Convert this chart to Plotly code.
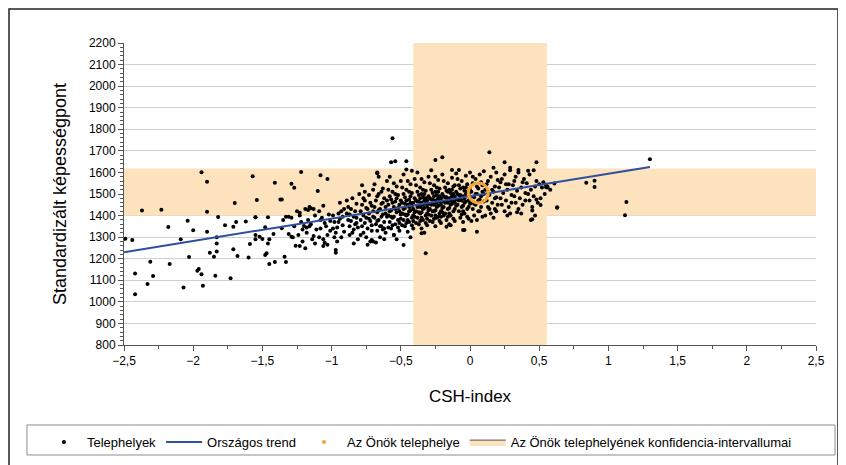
import plotly.graph_objects as go

# --- data ---

# sparse sites on the left (CSH-index, standardised score)
left_x = [-2.49, -2.44, -2.37, -2.23, -2.18, -2.42, -2.31, -2.29, -2.33, -2.42, -2.17, -2.09,
          -2.04, -2.00, -2.03, -2.07, -1.94, -1.90, -1.90, -1.90, -1.96, -1.97, -1.94, -1.93,
          -1.88, -1.85, -1.83, -1.83, -1.83, -1.82, -1.84, -1.73, -1.70, -1.71, -1.68, -1.69,
          -1.77, -1.71, -1.62, -1.60, -1.57, -1.54, -1.55, -1.59, -1.55, -1.41, -1.29, -1.27,
          -1.22, -1.08, -1.03, -1.10, -1.37, -1.36, -1.55, -1.46, -1.48, -1.55, -1.52, -1.50,
          -1.45, -1.46, -1.42, -1.48, -1.47, -1.45, -1.41, -1.34, -1.33, -1.35, -1.33, -1.31,
          -1.36, -1.31, -1.29, -1.23, -1.19, -1.23, -1.20, -1.17, -1.15, -1.13, -1.06, -1.05,
          -0.97]
left_y = [1292, 1287, 1424, 1427, 1347, 1132, 1186, 1120, 1083, 1035, 1175, 1290,
          1376, 1332, 1208, 1066, 1601, 1557, 1418, 1325, 1152, 1144, 1128, 1075,
          1228, 1209, 1234, 1271, 1299, 1393, 1121, 1110, 1458, 1244, 1213, 1370,
          1355, 1348, 1373, 1206, 1582, 1472, 1392, 1268, 1310, 1552, 1548, 1529,
          1602, 1587, 1570, 1514, 1475, 1475, 1392, 1392, 1346, 1290, 1302, 1291,
          1290, 1271, 1314, 1217, 1225, 1175, 1185, 1209, 1185, 1380, 1395, 1395,
          1341, 1314, 1302, 1259, 1248, 1413, 1352, 1426, 1434, 1431, 1259, 1274,
          1228]

# main cloud, left part (-1.3 .. -0.7)
cloud_a_x = [-1.29, -1.27, -1.25, -1.24, -1.22, -1.21, -1.28, -1.23, -1.26, -1.21,
             -1.19, -1.17, -1.16, -1.18, -1.14, -1.12, -1.15, -1.11, -1.13, -1.16, -1.12, -1.18,
             -1.09, -1.07, -1.05, -1.08, -1.03, -1.06, -1.02, -1.04, -1.01, -1.09, -1.06, -1.03, -1.08, -1.01,
             -0.99, -0.98, -0.96, -0.97, -0.95, -0.94, -0.93, -0.92, -0.91, -0.96, -0.99, -0.92, -0.94, -0.97,
             -0.91, -0.95, -0.93, -0.98,
             -0.89, -0.88, -0.87, -0.86, -0.85, -0.84, -0.83, -0.82, -0.81, -0.89, -0.87, -0.86, -0.84, -0.83,
             -0.82, -0.81, -0.88, -0.85, -0.84, -0.82, -0.80, -0.87,
             -0.79, -0.79, -0.78, -0.78, -0.77, -0.77, -0.76, -0.76, -0.75, -0.75, -0.74, -0.74, -0.73, -0.73,
             -0.72, -0.72, -0.71, -0.71, -0.70, -0.70, -0.78, -0.76, -0.74, -0.73, -0.72, -0.79, -0.75, -0.71,
             -0.77, -0.70]
cloud_a_y = [1390, 1350, 1420, 1310, 1370, 1335, 1300, 1400, 1260, 1280,
             1430, 1380, 1350, 1320, 1290, 1400, 1360, 1335, 1305, 1440, 1270, 1345,
             1420, 1390, 1365, 1340, 1310, 1290, 1405, 1350, 1375, 1300, 1445, 1265, 1380, 1330,
             1400, 1370, 1345, 1320, 1410, 1385, 1300, 1355, 1430, 1280, 1340, 1395, 1460, 1240,
             1325, 1370, 1420, 1300,
             1410, 1380, 1350, 1430, 1320, 1395, 1360, 1455, 1290, 1470, 1310, 1375, 1335, 1420,
             1390, 1345, 1440, 1480, 1270, 1365, 1500, 1405,
             1420, 1380, 1350, 1450, 1400, 1320, 1470, 1365, 1390, 1300, 1430, 1340, 1495, 1410,
             1375, 1280, 1445, 1355, 1420, 1520, 1540, 1510, 1265, 1385, 1460, 1310, 1435, 1330,
             1480, 1395]

# main cloud, middle part (-0.7 .. -0.3)
cloud_b_x = [-0.69, -0.69, -0.68, -0.68, -0.67, -0.67, -0.66, -0.66, -0.65, -0.65, -0.64, -0.64,
             -0.63, -0.63, -0.62, -0.62, -0.61, -0.61, -0.60, -0.60, -0.69, -0.68, -0.67, -0.66,
             -0.65, -0.64, -0.63, -0.62, -0.61, -0.60, -0.66, -0.64, -0.62, -0.67, -0.63,
             -0.59, -0.59, -0.58, -0.58, -0.57, -0.57, -0.56, -0.56, -0.55, -0.55, -0.54, -0.54,
             -0.53, -0.53, -0.52, -0.52, -0.51, -0.51, -0.50, -0.50, -0.59, -0.58, -0.57, -0.56,
             -0.55, -0.54, -0.53, -0.52, -0.51, -0.50, -0.58, -0.55, -0.53, -0.57, -0.54, -0.52,
             -0.51, -0.56, -0.59, -0.50,
             -0.49, -0.49, -0.48, -0.48, -0.47, -0.47, -0.46, -0.46, -0.45, -0.45, -0.44, -0.44,
             -0.43, -0.43, -0.42, -0.42, -0.41, -0.41, -0.40, -0.40, -0.49, -0.48, -0.47, -0.46,
             -0.45, -0.44, -0.43, -0.42, -0.41, -0.40, -0.48, -0.45, -0.43, -0.47, -0.44, -0.42,
             -0.41, -0.46, -0.49, -0.40, -0.47, -0.45, -0.43, -0.41, -0.44,
             -0.39, -0.39, -0.38, -0.38, -0.37, -0.37, -0.36, -0.36, -0.35, -0.35, -0.34, -0.34,
             -0.33, -0.33, -0.32, -0.32, -0.31, -0.31, -0.30, -0.30, -0.39, -0.38, -0.37, -0.36,
             -0.35, -0.34, -0.33, -0.32, -0.31, -0.30, -0.38, -0.35, -0.33, -0.37, -0.34, -0.32,
             -0.31, -0.36, -0.39, -0.30, -0.37, -0.35, -0.33, -0.31, -0.34, -0.36, -0.38, -0.32,
             -0.30, -0.35]
cloud_b_y = [1440, 1390, 1360, 1470, 1415, 1330, 1500, 1380, 1430, 1300, 1455, 1350,
             1525, 1405, 1370, 1480, 1440, 1320, 1395, 1560, 1545, 1275, 1490, 1425,
             1350, 1395, 1460, 1340, 1410, 1470, 1580, 1510, 1290, 1375, 1335,
             1450, 1400, 1370, 1490, 1425, 1340, 1510, 1390, 1440, 1310, 1465, 1360,
             1535, 1415, 1380, 1495, 1450, 1330, 1405, 1560, 1520, 1420, 1475, 1355,
             1395, 1430, 1480, 1345, 1420, 1470, 1580, 1550, 1290, 1395, 1500, 1435,
             1365, 1460, 1345, 1385,
             1460, 1410, 1380, 1500, 1435, 1350, 1520, 1400, 1450, 1325, 1475, 1370,
             1545, 1425, 1390, 1505, 1460, 1340, 1415, 1570, 1530, 1430, 1485, 1365,
             1405, 1440, 1490, 1355, 1430, 1480, 1590, 1560, 1300, 1405, 1510, 1445,
             1375, 1470, 1355, 1395, 1455, 1380, 1460, 1400, 1420,
             1470, 1420, 1390, 1510, 1445, 1360, 1530, 1410, 1460, 1340, 1485, 1380,
             1555, 1435, 1400, 1515, 1470, 1355, 1425, 1580, 1540, 1440, 1495, 1375,
             1415, 1450, 1500, 1365, 1440, 1490, 1600, 1570, 1320, 1415, 1520, 1455,
             1385, 1480, 1365, 1405, 1465, 1390, 1470, 1410, 1430, 1440, 1465, 1480,
             1455, 1500]

# main cloud, right part (-0.3 .. 0.6)
cloud_c_x = [-0.29, -0.29, -0.28, -0.28, -0.27, -0.27, -0.26, -0.26, -0.25, -0.25, -0.24, -0.24,
             -0.23, -0.23, -0.22, -0.22, -0.21, -0.21, -0.20, -0.20, -0.29, -0.28, -0.27, -0.26,
             -0.25, -0.24, -0.23, -0.22, -0.21, -0.20, -0.28, -0.25, -0.27, -0.24, -0.22, -0.21,
             -0.26, -0.29, -0.20, -0.27, -0.25, -0.23, -0.21, -0.24, -0.26, -0.28, -0.22, -0.20,
             -0.25, -0.23,
             -0.19, -0.19, -0.18, -0.18, -0.17, -0.17, -0.16, -0.16, -0.15, -0.15, -0.14, -0.14,
             -0.13, -0.13, -0.12, -0.12, -0.11, -0.11, -0.10, -0.10, -0.19, -0.18, -0.17, -0.16,
             -0.15, -0.14, -0.13, -0.12, -0.11, -0.10, -0.17, -0.15, -0.13, -0.11, -0.14, -0.16,
             -0.18, -0.12, -0.10, -0.15, -0.19, -0.14, -0.12, -0.16, -0.11,
             -0.09, -0.09, -0.08, -0.08, -0.07, -0.07, -0.06, -0.06, -0.05, -0.05, -0.04, -0.04,
             -0.03, -0.03, -0.02, -0.02, -0.01, -0.01, 0.00, 0.00, -0.09, -0.08, -0.07, -0.06,
             -0.05, -0.04, -0.03, -0.02, -0.01, 0.00, -0.07, -0.05, -0.03, -0.01, -0.04, -0.06,
             -0.08, -0.02, 0.00, -0.05,
             0.01, 0.01, 0.02, 0.02, 0.03, 0.03, 0.04, 0.04, 0.05, 0.05, 0.06, 0.06,
             0.07, 0.07, 0.08, 0.08, 0.09, 0.09, 0.10, 0.10, 0.02, 0.03, 0.05, 0.06,
             0.08, 0.09, 0.04, 0.07, 0.01, 0.10,
             0.11, 0.12, 0.13, 0.13, 0.14, 0.15, 0.15, 0.16, 0.17, 0.17, 0.18, 0.18,
             0.19, 0.19, 0.20, 0.20, 0.12, 0.14, 0.16, 0.18, 0.11, 0.19,
             0.21, 0.22, 0.23, 0.23, 0.24, 0.25, 0.25, 0.26, 0.27, 0.27, 0.28, 0.28,
             0.29, 0.30, 0.30, 0.22, 0.26, 0.29,
             0.31, 0.32, 0.33, 0.33, 0.34, 0.35, 0.35, 0.36, 0.37, 0.37, 0.38, 0.38,
             0.39, 0.40, 0.40, 0.32,
             0.41, 0.42, 0.43, 0.43, 0.44, 0.45, 0.46, 0.46, 0.47, 0.47, 0.48, 0.49,
             0.50, 0.44,
             0.52, 0.53, 0.55, 0.56, 0.58, 0.51, 0.54]
cloud_c_y = [1480, 1430, 1400, 1520, 1455, 1370, 1540, 1420, 1470, 1350, 1495, 1390,
             1565, 1445, 1410, 1525, 1480, 1365, 1435, 1590, 1550, 1450, 1505, 1385,
             1425, 1460, 1510, 1375, 1450, 1500, 1610, 1580, 1420, 1530, 1465, 1395,
             1490, 1375, 1415, 1475, 1400, 1480, 1420, 1440, 1450, 1475, 1490, 1465,
             1510, 1395,
             1490, 1440, 1410, 1530, 1465, 1380, 1550, 1430, 1480, 1360, 1505, 1400,
             1575, 1455, 1420, 1535, 1490, 1375, 1445, 1595, 1560, 1460, 1515, 1395,
             1435, 1470, 1520, 1385, 1460, 1510, 1485, 1410, 1490, 1430, 1450, 1460,
             1485, 1500, 1475, 1520, 1400, 1355, 1465, 1510, 1540,
             1500, 1450, 1420, 1540, 1475, 1390, 1560, 1440, 1490, 1370, 1515, 1410,
             1585, 1465, 1430, 1545, 1500, 1385, 1455, 1600, 1570, 1470, 1525, 1405,
             1445, 1480, 1530, 1395, 1470, 1520, 1495, 1420, 1500, 1440, 1460, 1470,
             1495, 1510, 1480, 1530,
             1510, 1460, 1430, 1550, 1485, 1400, 1570, 1450, 1500, 1380, 1525, 1420,
             1590, 1475, 1440, 1555, 1510, 1395, 1465, 1605, 1580, 1455, 1535, 1470,
             1490, 1540, 1500, 1420, 1375, 1500,
             1520, 1470, 1440, 1560, 1495, 1410, 1580, 1460, 1510, 1390, 1535, 1430,
             1600, 1485, 1450, 1565, 1545, 1430, 1520, 1480, 1400, 1420,
             1530, 1480, 1450, 1570, 1505, 1420, 1590, 1470, 1520, 1400, 1545, 1440,
             1610, 1495, 1460, 1555, 1545, 1410,
             1540, 1490, 1460, 1580, 1515, 1430, 1600, 1480, 1530, 1410, 1555, 1450,
             1570, 1505, 1470, 1560,
             1550, 1500, 1470, 1590, 1520, 1440, 1610, 1490, 1535, 1400, 1560, 1460,
             1545, 1380,
             1530, 1555, 1540, 1530, 1520, 1480, 1500]

# outliers above / below / right of the cloud
outlier_x = [-0.56, -0.57, -0.54, -0.46, -0.67, -0.67, -0.46, -0.42, -0.25, -0.20, -0.48, -0.32,
             -0.17, -0.04, -0.71, -0.70, -0.55, -0.35, -0.13, -0.08, 0.14, 0.25, 0.48, 0.29,
             0.35, 0.42, 0.17, -0.05, 0.05, 0.45, 0.34, 0.45, 0.51, 0.48, 0.63, 0.55, 0.56,
             0.61, 0.63, 0.84, 0.90, 0.90, 1.13, 1.12, 1.30]
outlier_y = [1758, 1647, 1652, 1652, 1596, 1600, 1614, 1608, 1658, 1670, 1264, 1225,
             1348, 1333, 1287, 1280, 1310, 1318, 1611, 1611, 1693, 1647, 1647, 1622,
             1611, 1608, 1622, 1333, 1325, 1383, 1415, 1423, 1449, 1475, 1438, 1531, 1534,
             1549, 1436, 1552, 1562, 1532, 1463, 1401, 1661]

sites_x = left_x + cloud_a_x + cloud_b_x + cloud_c_x + outlier_x
sites_y = left_y + cloud_a_y + cloud_b_y + cloud_c_y + outlier_y

# national trend line end points
trend_x = [-2.5, 1.3]
trend_y = [1230, 1625]

# your site and its confidence intervals
own_x = [0.06]
own_y = [1505]
ci_x = [-0.41, 0.555]
ci_y = [1400, 1618]

x_range = [-2.5, 2.5]
y_range = [800, 2200]

band_color = '#FCE3BD'
orange = '#F2A530'

# cross shaped confidence region (vertical and horizontal band)
cross_x = [ci_x[0], ci_x[1], ci_x[1], x_range[1], x_range[1], ci_x[1], ci_x[1],
           ci_x[0], ci_x[0], x_range[0], x_range[0], ci_x[0], ci_x[0]]
cross_y = [y_range[1], y_range[1], ci_y[1], ci_y[1], ci_y[0], ci_y[0], y_range[0],
           y_range[0], ci_y[0], ci_y[0], ci_y[1], ci_y[1], y_range[1]]

fig = go.Figure()

fig.add_trace(go.Scatter(
    x=cross_x, y=cross_y, mode='none', fill='toself', fillcolor=band_color,
    showlegend=False, hoverinfo='skip'
))

fig.add_trace(go.Scatter(
    x=sites_x, y=sites_y, mode='markers', name='Telephelyek',
    marker=dict(color='black', size=4)
))

fig.add_trace(go.Scatter(
    x=trend_x, y=trend_y, mode='lines', name='Országos trend',
    line=dict(color='#2E4E9E', width=2)
))

fig.add_trace(go.Scatter(
    x=own_x, y=own_y, mode='markers', showlegend=False,
    marker=dict(symbol='circle-open', size=20, color=orange, line=dict(width=3))
))

# legend-only entries
fig.add_trace(go.Scatter(
    x=[None], y=[None], mode='markers', name='Az Önök telephelye',
    marker=dict(color=orange, size=4)
))
fig.add_trace(go.Scatter(
    x=[None], y=[None], mode='lines', fill='toself', fillcolor=band_color,
    line=dict(color='#555555', width=1),
    name='Az Önök telephelyének konfidencia-intervallumai'
))

# outer frame
fig.add_shape(type='rect', xref='paper', yref='paper',
              x0=-0.1662, x1=1.0318, y0=-0.45, y1=1.1126,
              line=dict(color='#222222', width=1.5), layer='above')
# legend box
fig.add_shape(type='rect', xref='paper', yref='paper',
              x0=-0.1402, x1=1.0275, y0=-0.3642, y1=-0.2649,
              line=dict(color='#8C8C8C', width=1), layer='above')

fig.update_layout(
    width=846, height=465,
    margin=dict(l=116, r=38, t=35, b=128),
    paper_bgcolor='white', plot_bgcolor='white',
    font=dict(family='Arial, Liberation Sans, sans-serif', size=12, color='black'),
    separators=', ',
    legend=dict(
        orientation='h', x=-0.12, xanchor='left', y=-0.272, yanchor='top',
        borderwidth=0, bgcolor='rgba(0,0,0,0)', font=dict(size=13),
        itemwidth=36
    ),
)

fig.update_xaxes(
    range=x_range, dtick=0.5, showgrid=False, zeroline=False,
    showline=True, linecolor='#555555', linewidth=1,
    ticks='outside', ticklen=5, tickcolor='#555555',
    minor=dict(dtick=0.25, ticks='outside', ticklen=3, tickcolor='#555555'),
    title=dict(text='CSH-index', font=dict(size=17), standoff=22)
)
fig.update_yaxes(
    range=y_range, dtick=100, showgrid=True, gridcolor='#D0D0D0', gridwidth=1,
    zeroline=False, showline=True, linecolor='#555555', linewidth=1,
    ticks='outside', ticklen=5, tickcolor='#555555',
    minor=dict(dtick=20, ticks='outside', ticklen=3, tickcolor='#555555', showgrid=False),
    title=dict(text='Standardizált képességpont', font=dict(size=18), standoff=17)
)

fig.write_html("out.html")
